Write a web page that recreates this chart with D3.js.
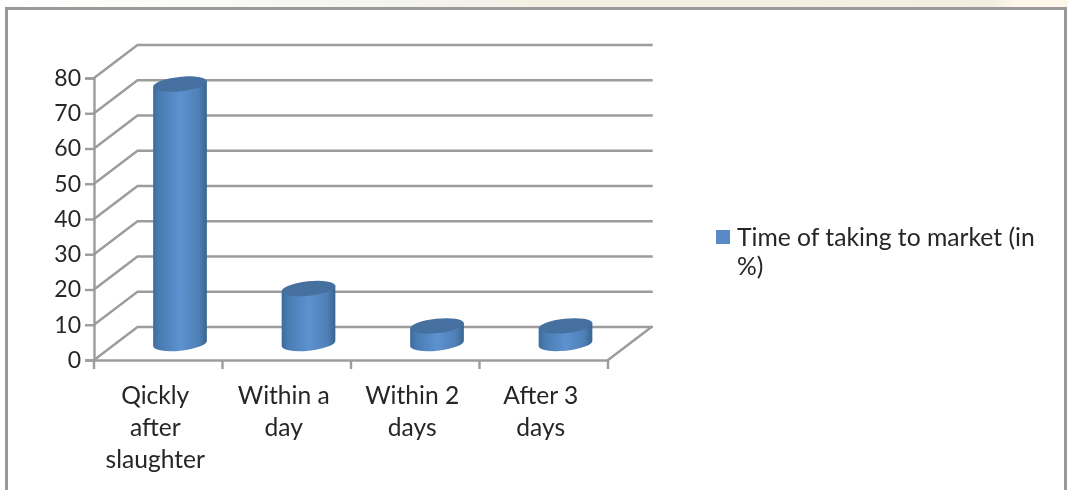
<!DOCTYPE html>
<html><head><meta charset="utf-8">
<script src="https://cdn.jsdelivr.net/npm/d3@7"></script>
<style>html,body{margin:0;padding:0;background:#fff;overflow:hidden}svg{display:block}text{font-family:Lato,"Open Sans",sans-serif;fill:#262626}</style>
</head><body><svg id="c" width="1068" height="490"></svg>
<script>
const categories = ["Qickly after slaughter","Within a day","Within 2 days","After 3 days"];
const categoryLines = [["Qickly","after","slaughter"],["Within a","day"],["Within 2","days"],["After 3","days"]];
const values = [73.6,15.6,5,5];
const yTicks = [0,10,20,30,40,50,60,70,80];
const seriesName = ["Time of taking to market (in","%)"];

const svg = d3.select("#c");
const defs = svg.append("defs");
defs.append("filter").attr("id","soft").attr("x","-5%").attr("y","-5%").attr("width","110%").attr("height","110%")
  .append("feGaussianBlur").attr("stdDeviation",0.7);
const grad = defs.append("linearGradient").attr("id","cyl");
[[0,"#3d6c9c"],[0.12,"#4a7cb2"],[0.5,"#5c92d0"],[0.85,"#4f80b6"],[1,"#38648f"]].forEach(([o,c])=>
  grad.append("stop").attr("offset",o).attr("stop-color",c));
const page = defs.append("linearGradient").attr("id","tint");
[[0,"#ffffff"],[0.45,"#f2f2ea"],[0.5,"#f5f0e2"],[0.93,"#f3eee0"],[0.95,"#fff6ea"],[1,"#fff6ea"]].forEach(([o,c])=>
  page.append("stop").attr("offset",o).attr("stop-color",c));

// page backdrop and frame
svg.append("rect").attr("x",0).attr("y",0).attr("width",1068).attr("height",8).attr("fill","url(#tint)");
svg.append("path").attr("d","M6.5,490V8.5H1065.5V490").attr("fill","none").attr("stroke","#9a9a9a").attr("stroke-width",3);

const root = svg.append("g").attr("filter","url(#soft)");
const x = d3.scaleBand().domain(categories).range([94,608]);
const y = d3.scaleLinear().domain([0,80]).range([360,78]);
const depth = {dx:43.5, dy:-33};
const axisColor = "#9c9c9c";
const lineW = 2.4;

// back wall gridlines and side wall diagonals
const grid = root.append("g").attr("stroke",axisColor).attr("stroke-width",lineW).attr("fill","none").attr("stroke-linecap","square");
grid.selectAll(".g").data(yTicks).join("path").attr("class","g")
  .attr("d",t=>`M${x.range()[0]},${y(t)}L${x.range()[0]+depth.dx},${y(t)+depth.dy}H${x.range()[1]+depth.dx}`);
grid.append("path").attr("d",`M${x.range()[1]},${y(0)}L${x.range()[1]+depth.dx},${y(0)+depth.dy}`);

// axes
const yAxis = root.append("g").attr("transform",`translate(${x.range()[0]},0)`)
  .call(d3.axisLeft(y).tickValues(yTicks).tickSize(9).tickPadding(4));
yAxis.selectAll("path,line").attr("stroke",axisColor).attr("stroke-width",lineW);
yAxis.selectAll("text").style("font-size","23px").attr("fill","#262626");

const xAxis = root.append("g").attr("transform",`translate(0,${y(0)})`)
  .call(d3.axisBottom(x).tickValues([]).tickSize(0));
xAxis.select("path").attr("stroke",axisColor).attr("stroke-width",lineW);
const edges = categories.map(c=>x(c)).concat(x.range()[1]);
root.append("g").selectAll("line").data(edges).join("line")
  .attr("x1",d=>d).attr("x2",d=>d).attr("y1",y(0)).attr("y2",y(0)+9)
  .attr("stroke",axisColor).attr("stroke-width",lineW);

// x labels
const labels = root.append("g").attr("text-anchor","middle").style("font-size","24.6px");
categories.forEach((c,i)=>{
  const t = labels.append("text").attr("x",x(c)+x.bandwidth()/2-3);
  categoryLines[i].forEach((l,j)=>t.append("tspan").attr("x",x(c)+x.bandwidth()/2-3).attr("y",404+j*32).text(l));
});

// cylinders
const rx = 27, ry = 7.2, tilt = -6, rad = tilt*Math.PI/180;
const ex = rx*Math.cos(rad), ey = rx*Math.sin(rad);
const bars = root.append("g").selectAll("g").data(values.map((v,i)=>({v,c:categories[i]}))).join("g")
  .attr("transform",d=>`translate(${x(d.c)+x.bandwidth()/2+depth.dx/2},0)`);
bars.append("path").attr("fill","url(#cyl)")
  .attr("d",d=>{
    const yb=y(0)+depth.dy/2, yt=y(d.v)+depth.dy/2;
    return `M${-ex},${yt-ey}L${-ex},${yb-ey}A${rx},${ry} ${tilt} 0 0 ${ex},${yb+ey}L${ex},${yt+ey}Z`;
  });
bars.append("ellipse").attr("rx",rx).attr("ry",ry).attr("fill","#44709f")
  .attr("transform",d=>`translate(0,${y(d.v)+depth.dy/2}) rotate(${tilt})`);

// legend
const legend = root.append("g");
legend.append("rect").attr("x",716).attr("y",230).attr("width",14).attr("height",14).attr("fill","#5a8ac6");
const lt = legend.append("text").style("font-size","24.7px");
seriesName.forEach((l,j)=>lt.append("tspan").attr("x",737).attr("y",246+j*29).text(l));
</script></body></html>
